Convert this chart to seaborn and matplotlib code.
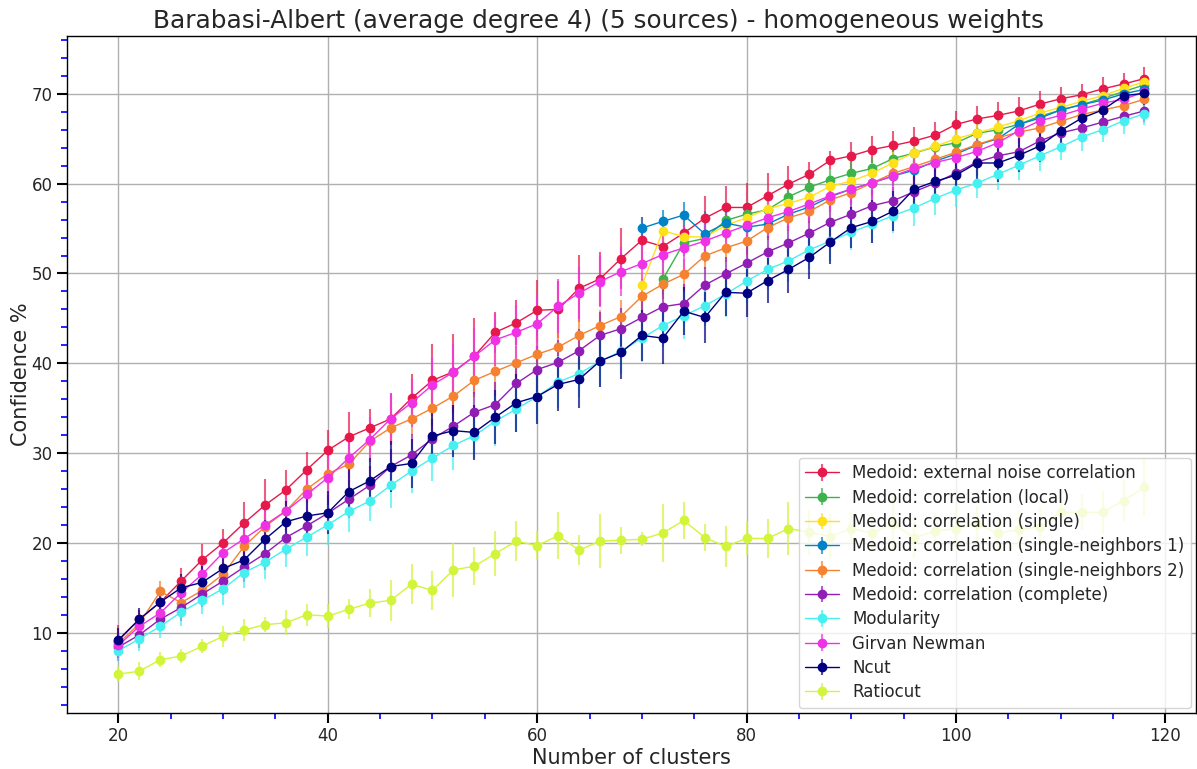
import matplotlib
matplotlib.use("Agg")
import matplotlib.pyplot as plt
import seaborn as sns
from matplotlib.ticker import MultipleLocator
from matplotlib.colors import to_rgba

# ---------------- data ----------------
x_all = [20, 22, 24, 26, 28, 30, 32, 34, 36, 38,
         40, 42, 44, 46, 48, 50, 52, 54, 56, 58,
         60, 62, 64, 66, 68, 70, 72, 74, 76, 78,
         80, 82, 84, 86, 88, 90, 92, 94, 96, 98,
         100, 102, 104, 106, 108, 110, 112, 114, 116, 118]
x_from70 = [70, 72, 74, 76, 78, 80, 82, 84, 86, 88, 90, 92, 94, 96, 98,
            100, 102, 104, 106, 108, 110, 112, 114, 116, 118]
x_from72 = [72, 74, 76, 78, 80, 82, 84, 86, 88, 90, 92, 94, 96, 98,
            100, 102, 104, 106, 108, 110, 112, 114, 116, 118]

ext_noise = [9.1, 11.5, 13.4, 15.75, 18.1, 20.0, 22.2, 24.2, 25.9, 28.15,
             30.3, 31.8, 32.8, 33.8, 36.1, 38.1, 39.05, 40.8, 43.45, 44.5,
             45.9, 46.0, 48.35, 49.4, 51.65, 53.7, 53.0, 54.5, 56.15, 57.35,
             57.35, 58.65, 59.95, 61.05, 62.6, 63.1, 63.8, 64.25, 64.75, 65.4,
             66.6, 67.2, 67.6, 68.1, 68.85, 69.45, 69.9, 70.55, 71.1, 71.7]
ext_noise_err = [1.8, 1.0, 1.2, 1.5, 1.8, 1.5, 2.4, 2.9, 2.2, 2.0,
                 2.3, 2.8, 2.1, 2.9, 2.7, 4.0, 4.2, 4.2, 2.3, 2.5,
                 3.4, 3.2, 3.7, 3.0, 3.4, 2.6, 1.8, 2.2, 2.5, 2.35,
                 2.7, 2.5, 2.0, 1.4, 1.0, 1.5, 1.5, 1.6, 1.6, 1.5,
                 1.45, 1.5, 1.5, 1.5, 1.5, 1.3, 1.2, 1.35, 1.2, 1.3]

corr_local = [49.35, 53.4, 53.9, 55.9, 56.6, 57.1, 58.55, 59.6, 60.45, 61.15,
              61.7, 62.8, 63.4, 64.1, 64.55, 65.6, 66.0, 66.6, 67.5, 68.2,
              68.8, 69.5, 70.25, 71.0]
corr_local_err = [1.8, 1.5, 1.6, 1.4, 1.5, 1.3, 1.4, 1.3, 1.2, 1.3,
                  1.2, 1.3, 1.2, 1.2, 1.3, 1.2, 1.1, 1.2, 1.1, 1.0,
                  1.0, 1.0, 0.9, 0.9]

corr_single = [48.7, 54.75, 54.1, 54.05, 55.35, 56.2, 57.2, 57.8, 58.5, 59.7,
               60.3, 61.15, 62.35, 63.45, 64.15, 65.0, 65.65, 66.3, 67.0, 67.85,
               68.5, 69.15, 69.8, 70.6, 71.35]
corr_single_err = [1.5, 1.6, 1.8, 1.5, 1.4, 1.3, 1.3, 1.2, 1.3, 1.2,
                   1.2, 1.1, 1.2, 1.1, 1.1, 1.0, 1.1, 1.0, 1.0, 1.0,
                   0.9, 0.9, 0.9, 0.8, 0.8]

corr_sn1 = [55.05, 55.8, 56.5, 54.4, 55.6, 55.15, 55.5, 56.6, 57.4, 58.55,
            59.4, 60.1, 60.85, 61.5, 62.5, 63.3, 64.3, 65.0, 66.6, 67.3,
            68.2, 68.8, 69.3, 70.0, 70.5]
corr_sn1_err = [1.2, 1.3, 1.5, 2.5, 1.8, 1.6, 1.5, 1.4, 1.3, 1.3,
                1.2, 1.2, 1.1, 1.1, 1.1, 1.0, 1.0, 1.0, 1.0, 0.9,
                0.9, 0.9, 0.8, 0.8, 0.8]

corr_sn2 = [8.8, 11.0, 14.6, 13.35, 14.7, 16.5, 19.6, 21.8, 23.55, 26.0,
            27.7, 28.75, 31.3, 32.8, 33.8, 35.0, 36.35, 38.1, 39.1, 40.05,
            41.0, 41.8, 43.1, 44.2, 45.2, 47.45, 48.8, 49.9, 51.95, 52.85,
            53.6, 55.1, 56.2, 56.9, 58.2, 59.0, 60.1, 61.15, 61.9, 62.7,
            63.5, 64.35, 65.1, 65.75, 66.2, 66.95, 67.7, 68.2, 68.7, 69.4]
corr_sn2_err = [1.0, 1.1, 1.2, 1.3, 1.2, 1.4, 1.5, 1.4, 1.7, 1.6,
                1.8, 1.6, 1.9, 1.7, 1.8, 2.0, 1.9, 1.8, 2.1, 1.9,
                2.0, 1.8, 1.9, 1.7, 1.8, 1.9, 1.6, 1.7, 1.5, 1.6,
                1.5, 1.4, 1.5, 1.3, 1.4, 1.3, 1.4, 1.2, 1.3, 1.2,
                1.1, 1.2, 1.1, 1.0, 1.1, 1.0, 1.0, 0.9, 1.0, 0.9]

corr_complete = [8.4, 9.75, 11.5, 12.8, 14.3, 15.75, 17.3, 18.8, 20.6, 21.9,
                 23.3, 24.85, 26.4, 28.5, 29.8, 31.6, 33.0, 34.55, 35.4, 37.75,
                 39.3, 40.1, 41.4, 43.1, 43.85, 45.1, 46.3, 46.65, 48.7, 49.95,
                 51.15, 52.4, 53.4, 54.5, 55.7, 56.6, 57.55, 58.1, 59.1, 60.05,
                 61.2, 62.4, 63.1, 63.55, 64.75, 65.65, 66.2, 66.85, 67.5, 68.1]
corr_complete_err = [1.6, 1.4, 1.3, 1.5, 1.4, 1.6, 1.7, 1.8, 1.9, 1.8,
                     2.0, 2.1, 2.2, 2.0, 2.3, 2.2, 2.4, 2.3, 2.5, 2.4,
                     2.6, 2.5, 2.4, 2.6, 2.3, 2.2, 2.1, 2.2, 2.0, 1.9,
                     2.0, 1.8, 1.9, 1.7, 1.8, 1.6, 1.7, 1.5, 1.6, 1.5,
                     1.4, 1.5, 1.3, 1.4, 1.3, 1.2, 1.3, 1.2, 1.1, 1.2]

modularity = [8.0, 9.3, 10.7, 12.3, 13.6, 14.9, 16.7, 17.85, 19.3, 20.65,
              22.0, 23.5, 24.65, 26.4, 28.0, 29.45, 30.85, 31.95, 33.55, 34.9,
              36.3, 37.9, 38.85, 40.2, 41.35, 42.8, 44.2, 45.3, 46.4, 47.7,
              49.15, 50.45, 51.4, 52.65, 53.6, 54.6, 55.5, 56.45, 57.3, 58.35,
              59.3, 60.05, 61.05, 62.05, 63.1, 64.1, 65.2, 66.0, 67.0, 67.8]
modularity_err = [1.2, 1.3, 1.3, 1.6, 1.5, 1.8, 1.7, 1.9, 2.0, 2.1,
                  2.2, 2.3, 2.2, 2.5, 2.4, 2.6, 2.7, 2.5, 2.8, 2.6,
                  2.7, 2.9, 2.6, 2.8, 2.5, 2.7, 2.4, 2.6, 2.3, 2.5,
                  2.4, 2.2, 2.3, 2.1, 2.2, 2.0, 2.1, 1.9, 2.0, 1.8,
                  1.9, 1.7, 1.8, 1.6, 1.7, 1.5, 1.6, 1.4, 1.5, 1.3]

girvan_newman = [8.6, 10.7, 12.2, 14.45, 16.5, 18.9, 20.45, 22.0, 23.55, 25.4,
                 27.25, 29.45, 31.5, 33.8, 35.6, 37.6, 39.0, 40.8, 42.6, 43.45,
                 44.4, 46.35, 47.8, 49.1, 50.2, 51.1, 52.1, 52.85, 53.6, 54.5,
                 55.35, 56.2, 56.9, 57.75, 58.65, 59.4, 60.1, 60.85, 61.7, 62.35,
                 62.9, 63.6, 64.55, 65.9, 67.0, 67.6, 68.3, 68.95, 69.4, 70.2]
girvan_newman_err = [1.4, 1.3, 1.5, 1.6, 1.8, 1.7, 2.0, 2.2, 2.1, 2.3,
                     2.4, 2.6, 2.5, 2.8, 2.7, 3.0, 3.2, 3.1, 2.9, 3.0,
                     3.2, 3.0, 2.9, 2.8, 2.7, 2.6, 2.4, 2.5, 2.3, 2.2,
                     2.1, 2.0, 2.1, 1.9, 1.8, 1.7, 1.8, 1.6, 1.7, 1.5,
                     1.6, 1.4, 1.5, 1.4, 1.3, 1.2, 1.3, 1.2, 1.1, 1.1]

ncut = [9.2, 11.5, 13.4, 15.0, 15.6, 17.15, 18.1, 20.4, 22.35, 23.0,
        23.35, 25.7, 26.9, 28.5, 28.85, 31.9, 32.5, 32.3, 34.0, 35.6,
        36.3, 37.65, 38.2, 40.25, 41.2, 43.1, 42.8, 45.8, 45.1, 47.9,
        47.8, 49.2, 50.45, 51.8, 53.5, 55.1, 55.8, 56.95, 59.4, 60.25,
        60.95, 62.3, 62.3, 63.15, 64.2, 65.9, 67.3, 68.2, 69.8, 70.05]
ncut_err = [1.3, 1.2, 1.6, 1.5, 1.8, 1.7, 2.0, 2.1, 2.3, 2.2,
            2.4, 2.6, 2.5, 2.8, 2.7, 3.0, 2.9, 3.1, 3.0, 3.2,
            3.1, 3.0, 3.2, 2.9, 3.0, 2.8, 2.9, 2.7, 2.8, 2.6,
            2.7, 2.5, 2.6, 2.4, 2.5, 2.3, 2.4, 2.2, 2.3, 2.1,
            2.2, 2.0, 2.1, 1.9, 1.8, 1.7, 1.6, 1.5, 1.4, 1.3]

ratiocut = [5.4, 5.7, 7.0, 7.4, 8.5, 9.6, 10.3, 10.9, 11.1, 12.0,
            11.85, 12.6, 13.3, 13.6, 15.4, 14.7, 17.0, 17.4, 18.8, 20.2,
            19.7, 20.8, 19.2, 20.2, 20.3, 20.4, 21.1, 22.5, 20.6, 19.6,
            20.5, 20.5, 21.6, 21.2, 20.7, 21.6, 21.1, 22.1, 20.6, 21.3,
            21.6, 22.1, 21.1, 21.5, 21.8, 23.4, 23.4, 23.4, 24.7, 26.2]
ratiocut_err = [0.9, 1.0, 0.8, 0.8, 0.8, 1.2, 1.2, 0.8, 1.4, 1.2,
                1.3, 1.1, 1.6, 2.3, 2.25, 2.2, 3.0, 2.1, 2.5, 2.2,
                1.6, 2.6, 1.7, 3.0, 1.5, 0.8, 3.2, 2.1, 1.5, 2.3,
                1.9, 2.2, 3.0, 2.5, 2.5, 2.0, 2.2, 3.0, 2.3, 2.0,
                2.5, 2.0, 1.8, 2.0, 2.2, 1.5, 2.0, 2.4, 2.3, 3.2]

labels = ["Medoid: external noise correlation",
          "Medoid: correlation (local)",
          "Medoid: correlation (single)",
          "Medoid: correlation (single-neighbors 1)",
          "Medoid: correlation (single-neighbors 2)",
          "Medoid: correlation (complete)",
          "Modularity",
          "Girvan Newman",
          "Ncut",
          "Ratiocut"]
colors = ["#e6194b", "#3cb44b", "#ffe119", "#0082c8", "#f58231",
          "#911eb4", "#46f0f0", "#f032e6", "#000080", "#d2f53c"]

series = [
    (x_all, ext_noise, ext_noise_err),
    (x_from72, corr_local, corr_local_err),
    (x_from70, corr_single, corr_single_err),
    (x_from70, corr_sn1, corr_sn1_err),
    (x_all, corr_sn2, corr_sn2_err),
    (x_all, corr_complete, corr_complete_err),
    (x_all, modularity, modularity_err),
    (x_all, girvan_newman, girvan_newman_err),
    (x_all, ncut, ncut_err),
    (x_all, ratiocut, ratiocut_err),
]

# ---------------- style ----------------
sns.set_theme(style="ticks", rc={
    "axes.grid": True,
    "grid.color": "#b0b0b0",
    "grid.linewidth": 1.0,
    "axes.edgecolor": "black",
    "axes.linewidth": 1.0,
})
plt.rcParams["font.family"] = ["DejaVu Sans"]

fig, ax = plt.subplots(figsize=(11.97, 7.69), dpi=100)
fig.subplots_adjust(left=0.056, right=0.999, top=0.953, bottom=0.073)

palette = sns.color_palette(colors)
for (xs, ys, es), lab, col in zip(series, labels, palette):
    ax.errorbar(xs, ys, yerr=es, fmt="-o", color=col,
                ecolor=to_rgba(col, 0.7), elinewidth=1.5,
                linewidth=1.0, markersize=6, label=lab)

ax.xaxis.set_major_locator(MultipleLocator(20))
ax.xaxis.set_minor_locator(MultipleLocator(5))
ax.yaxis.set_major_locator(MultipleLocator(10))
ax.yaxis.set_minor_locator(MultipleLocator(2))
ax.tick_params(which="major", length=7, width=1.5, color="black",
               labelsize=12, direction="out")
ax.tick_params(which="minor", length=4, width=1.2, color="blue",
               direction="out")
ax.grid(True, which="major", color="#b0b0b0", linewidth=1.0)
ax.grid(False, which="minor")

fig.suptitle("Barabasi-Albert (average degree 4) (5 sources) - homogeneous weights",
             fontsize=17.8, x=0.5, y=0.988, va="top")
ax.set_xlabel("Number of clusters", fontsize=15, labelpad=2)
ax.set_ylabel("Confidence %", fontsize=15, labelpad=0)

ax.legend(loc="lower right", fontsize=12, frameon=True, framealpha=0.8,
          labelspacing=0.38, borderaxespad=0.3)

fig.savefig("out.png", dpi=100)
